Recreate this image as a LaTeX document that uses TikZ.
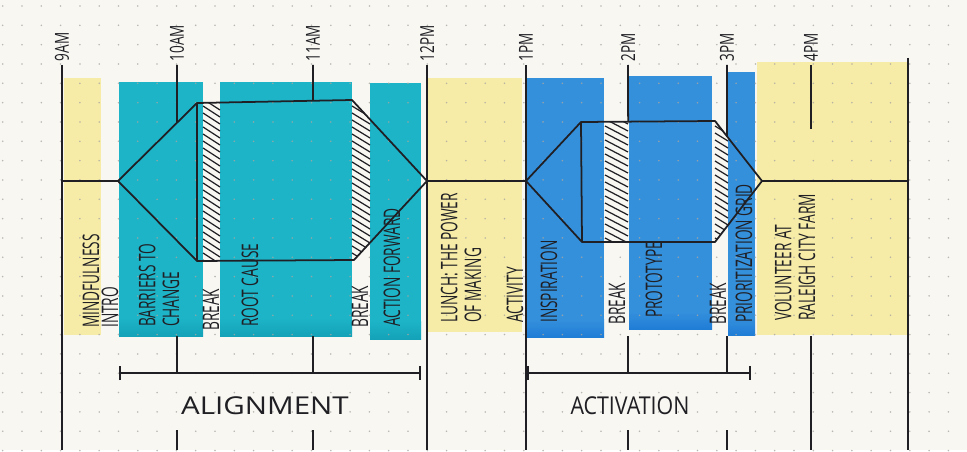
\documentclass[tikz,border=0pt]{standalone}
\usepackage{fontspec}
\usetikzlibrary{arrows.meta,calc}
\newfontfamily\handfont{Open Sans}
\definecolor{paper}{HTML}{F8F7F2}
\definecolor{dotgrey}{HTML}{A8A7A0}
\definecolor{pen}{HTML}{1F1F24}
\definecolor{hiyellow}{HTML}{F6ECA8}
\definecolor{hiteal}{HTML}{1DB4C8}
\definecolor{tealdeep}{HTML}{14A2B8}
\definecolor{hiblue}{HTML}{3590DC}
\definecolor{bluedeep}{HTML}{207DD6}

\begin{document}
\begin{tikzpicture}[x=0.02cm,y=-0.02cm,
  ink/.style={draw=pen,line width=1pt,line join=round},
  hour/.style={rotate=90,anchor=west,xscale=.7,inner sep=3pt,text=pen,font=\handfont\fontsize{11}{11}\selectfont},
  lbl/.style={rotate=90,anchor=west,xscale=.6,inner sep=0pt,align=left,text=pen,font=\handfont\fontsize{13}{13.5}\selectfont},
  phase/.style={text=pen,font=\handfont\fontsize{14}{14}\selectfont},
  hatch/.style={draw=pen,line width=.7pt}]
\fill[paper] (0,0) rectangle (967,450);
% marker blocks
\fill[hiyellow] (64,78) rectangle (101,335);
\fill[hiyellow] (428,78) rectangle (522,332);
\fill[hiyellow] (757,62) rectangle (908,335);
\fill[hiteal] (119,82) rectangle (203,336);
\fill[hiteal] (220,82) rectangle (352,336);
\fill[hiteal] (370,83) rectangle (421,339);
\fill[hiblue] (527,78) rectangle (604,337);
\fill[hiblue] (629,76) rectangle (712,329);
\fill[hiblue] (728,72) rectangle (755,335);
\shade[top color=hiteal,bottom color=tealdeep] (119,318) rectangle (203,336);
\shade[top color=hiteal,bottom color=tealdeep] (220,318) rectangle (352,336);
\shade[top color=hiteal,bottom color=tealdeep] (370,321) rectangle (421,339);
\shade[top color=hiblue,bottom color=bluedeep] (527,319) rectangle (604,337);
\shade[top color=hiblue,bottom color=bluedeep] (629,311) rectangle (712,329);
\shade[top color=hiblue,bottom color=bluedeep] (728,317) rectangle (755,335);
\foreach \i in {0,...,49} \foreach \j in {0,...,23}
  \fill[dotgrey,opacity=.8] ({2.7+19.3*\i},{6+19.33*\j}) circle (0.5pt);

\coordinate (ybar) at (0,336); \coordinate (ybr) at (0,373);
\coordinate (ylow) at (0,430); \coordinate (ybot) at (0,450);
\coordinate (endtop) at (908,58); \coordinate (y4) at (0,129);

% the two sessions
\coordinate (al-l) at (118,181); \coordinate (al-tl) at (197,103);
\coordinate (al-tr) at (352,100); \coordinate (al-r) at (427,181);
\coordinate (al-br) at (354,260); \coordinate (al-bl) at (197,261);
\coordinate (ac-l) at (526,181); \coordinate (ac-tl) at (581,122);
\coordinate (ac-tr) at (715,121); \coordinate (ac-r) at (762,181);
\coordinate (ac-br) at (715,242); \coordinate (ac-bl) at (582,242);

\begin{scope}
\clip (al-l)--(al-tl)--(al-tr)--(al-r)--(al-br)--(al-bl)--cycle;
\fill[paper] (203,95) rectangle (220,265); \fill[paper] (352,95) rectangle (370,265);
\foreach \y in {92,99,...,268} {\draw[hatch] (203,\y)--(220,\y+11); \draw[hatch] (352,\y)--(370,\y+11);}
\end{scope}
\begin{scope}
\clip (ac-l)--(ac-tl)--(ac-tr)--(ac-r)--(ac-br)--(ac-bl)--cycle;
\fill[paper] (605,115) rectangle (628,250); \fill[paper] (715,115) rectangle (728,250);
\foreach \y in {112,119,...,250} {\draw[hatch] (605,\y)--(628,\y+12); \draw[hatch] (715,\y)--(728,\y+8);}
\end{scope}
\draw[ink] (al-l)--(al-tl)--(al-tr)--(al-r)--(al-br)--(al-bl)--cycle (al-tl)--(al-bl);
\draw[ink] (ac-l)--(ac-tl)--(ac-tr)--(ac-r)--(ac-br)--(ac-bl)--cycle (ac-tl)--(ac-bl);

% hours
\node[hour] (h9) at (62,65) {9AM};
\node[hour] (h10) at (177,65) {10AM};
\node[hour] (h11) at (313,65) {11AM};
\node[hour] (h12) at (427,65) {12PM};
\node[hour] (h1) at (526,65) {1PM};
\node[hour] (h2) at (628,65) {2PM};
\node[hour] (h3) at (727,65) {3PM};
\node[hour] (h4) at (811,65) {4PM};
\draw[ink] (h9.west)--(h9.west |- ybot);
\draw[ink] (h12.west)--(h12.west |- ybot);
\draw[ink] (h1.west)--(h1.west |- ybot);
\draw[ink] (endtop)--(endtop |- ybot);
\draw[ink] (h10.west)--(intersection of al-l--al-tl and h10.west--h10.east);
\draw[ink] (h11.west)--(intersection of al-tl--al-tr and h11.west--h11.east);
\draw[ink] (h2.west)--(intersection of ac-tl--ac-tr and h2.west--h2.east);
\draw[ink] (h3.west)--(intersection of ac-tr--ac-r and h3.west--h3.east);
\draw[ink] (h4.west)--(h4.west |- y4) (h4.west |- ybar)--(h4.west |- ybot);
\foreach \h in {h10,h11,h2,h3}
  \draw[ink] (\h.west |- ybar)--(\h.west |- ybr) (\h.west |- ylow)--(\h.west |- ybot);
\draw[ink] (h9.west |- al-l)--(al-l) (al-r)--(ac-l) (ac-r)--(endtop |- ac-r);

% activities
\node[lbl] (mind) at (91,328) {MINDFULNESS};
\node[lbl] (intro) at (110,328) {INTRO};
\node[lbl] (barr) at (159,327) {BARRIERS TO\\CHANGE};
\node[lbl] (brk1) at (211,331) {BREAK};
\node[lbl] (root) at (250,327) {ROOT CAUSE};
\node[lbl] (brk2) at (360,328) {BREAK};
\node[lbl] (action) at (392,327) {ACTION FORWARD};
\node[lbl] (lunch) at (461,323) {LUNCH: THE POWER\\OF MAKING};
\node[lbl] (activity) at (515,323) {ACTIVITY};
\node[lbl] (insp) at (549,323) {INSPIRATION};
\node[lbl] (brk3) at (617,325) {BREAK};
\node[lbl] (proto) at (654,318) {PROTOTYPE};
\node[lbl] (brk4) at (718,325) {BREAK};
\node[lbl] (prio) at (744,323) {PRIORITIZATION GRID};
\node[lbl] (volun) at (795,321) {VOLUNTEER AT\\RALEIGH CITY FARM};

% phases
\coordinate (al-a) at (119,373); \coordinate (al-b) at (421,373);
\coordinate (ac-a) at (527,373); \coordinate (ac-b) at (751,373);
\draw[ink,{Bar[width=8pt]}-{Bar[width=8pt]}] (al-a)--(al-b);
\draw[ink,{Bar[width=8pt]}-{Bar[width=8pt]}] (ac-a)--(ac-b);
\node[phase,xscale=1.2] (alname) at (265,406) {ALIGNMENT};
\node[phase,xscale=.87] (acname) at (630,406) {ACTIVATION};
\end{tikzpicture}
\end{document}
